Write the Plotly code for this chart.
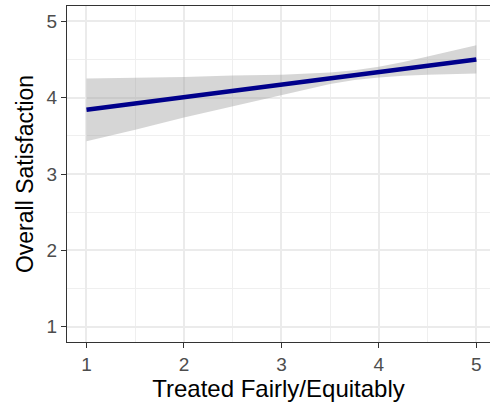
import plotly.graph_objects as go

x_vals = [1.0, 1.5, 2.0, 2.5, 3.0, 3.5, 3.75, 4.0, 4.25, 4.5, 5.0]
fit_vals = [3.840, 3.923, 4.005, 4.088, 4.170, 4.253, 4.294, 4.335, 4.376, 4.418, 4.500]
lower_vals = [3.43, 3.58, 3.74, 3.89, 4.04, 4.18, 4.23, 4.265, 4.285, 4.30, 4.315]
upper_vals = [4.25, 4.26, 4.27, 4.29, 4.30, 4.33, 4.36, 4.405, 4.467, 4.54, 4.685]
tick_vals = [1, 2, 3, 4, 5]
x_title = "Treated Fairly/Equitably"
y_title = "Overall Satisfaction"

FONT = "Liberation Sans, Arial, sans-serif"

fig = go.Figure()
fig.add_trace(go.Scatter(x=x_vals, y=lower_vals, mode="lines", line=dict(width=0),
                         hoverinfo="skip", showlegend=False))
fig.add_trace(go.Scatter(x=x_vals, y=upper_vals, mode="lines", line=dict(width=0),
                         fill="tonexty", fillcolor="rgba(153,153,153,0.4)",
                         hoverinfo="skip", showlegend=False))
fig.add_trace(go.Scatter(x=x_vals, y=fit_vals, mode="lines",
                         line=dict(color="#00008B", width=4.5), showlegend=False))

axis_common = dict(
    showgrid=True, gridcolor="#EBEBEB", gridwidth=1.8,
    zeroline=False, showline=True, linecolor="#333333", linewidth=1.2,
    ticks="outside", ticklen=5, tickcolor="#333333", tickwidth=1.4,
    tickfont=dict(family=FONT, size=19, color="#4D4D4D"),
    tickvals=tick_vals,
    minor=dict(showgrid=True, gridcolor="#EFEFEF", gridwidth=1, tick0=0.5, dtick=1),
)

fig.update_layout(
    width=490, height=404,
    margin=dict(l=67, r=0, t=6, b=62),
    paper_bgcolor="white", plot_bgcolor="white",
    xaxis=dict(range=[0.8, 5.14], mirror=True,
               title=dict(text=x_title, font=dict(family=FONT, size=24, color="black"), standoff=6),
               **axis_common),
    yaxis=dict(range=[0.8, 5.2],
               title=dict(text=y_title, font=dict(family=FONT, size=23, color="black"), standoff=6),
               **axis_common),
)

fig.write_html("out.html")
